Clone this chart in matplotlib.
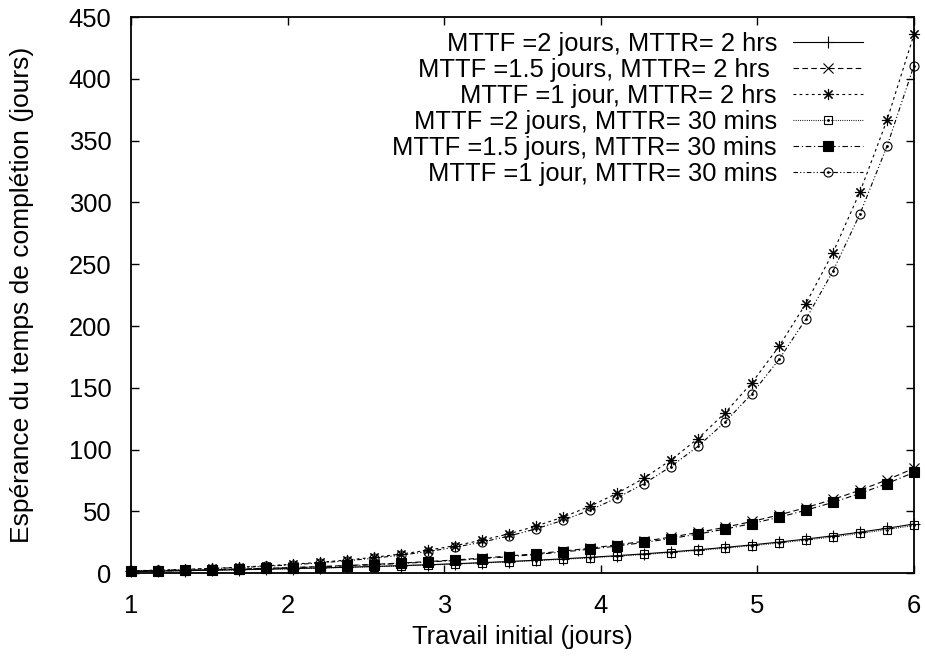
import matplotlib
matplotlib.use("Agg")
import matplotlib.pyplot as plt
from matplotlib.legend_handler import HandlerTuple

plt.rcParams['font.family'] = ['Liberation Sans', 'DejaVu Sans']

# --- données ---
travail = [1.0, 1.172, 1.345, 1.517, 1.690, 1.862, 2.034, 2.207, 2.379, 2.552,
           2.724, 2.897, 3.069, 3.241, 3.414, 3.586, 3.759, 3.931, 4.103, 4.276,
           4.448, 4.621, 4.793, 4.966, 5.138, 5.310, 5.483, 5.655, 5.828, 6.0]

mttf2_2h = [1.35, 1.66, 2.00, 2.37, 2.77, 3.20, 3.68, 4.20, 4.76, 5.38,
            6.05, 6.78, 7.58, 8.45, 9.40, 10.43, 11.56, 12.79, 14.13, 15.59,
            17.18, 18.91, 20.80, 22.86, 25.11, 27.56, 30.23, 33.13, 36.31, 39.76]
mttf15_2h = [1.50, 1.88, 2.30, 2.77, 3.30, 3.90, 4.56, 5.31, 6.15, 7.09,
             8.15, 9.34, 10.67, 12.16, 13.83, 15.71, 17.82, 20.18, 22.83, 25.80,
             29.14, 32.88, 37.08, 41.79, 47.07, 53.00, 59.65, 67.11, 75.48, 84.86]
mttf1_2h = [1.86, 2.42, 3.07, 3.86, 4.79, 5.89, 7.20, 8.76, 10.61, 12.82,
            15.43, 18.54, 22.23, 26.62, 31.83, 38.02, 45.38, 54.12, 64.51, 76.86,
            91.52, 108.95, 129.65, 154.25, 183.48, 218.20, 259.47, 308.50, 366.75, 435.96]
mttf2_30m = [1.31, 1.61, 1.94, 2.29, 2.68, 3.11, 3.57, 4.07, 4.62, 5.22,
             5.87, 6.58, 7.35, 8.20, 9.12, 10.12, 11.21, 12.41, 13.70, 15.12,
             16.66, 18.35, 20.18, 22.18, 24.36, 26.73, 29.32, 32.14, 35.22, 38.57]
mttf15_30m = [1.44, 1.80, 2.21, 2.66, 3.17, 3.74, 4.38, 5.10, 5.91, 6.81,
              7.83, 8.97, 10.25, 11.68, 13.29, 15.09, 17.11, 19.38, 21.93, 24.79,
              27.99, 31.59, 35.62, 40.14, 45.22, 50.91, 57.30, 64.46, 72.50, 81.51]
mttf1_30m = [1.75, 2.28, 2.90, 3.63, 4.51, 5.55, 6.79, 8.26, 10.00, 12.08,
             14.54, 17.47, 20.95, 25.08, 29.99, 35.83, 42.76, 51.00, 60.79, 72.42,
             86.24, 102.66, 122.17, 145.35, 172.89, 205.62, 244.50, 290.70, 345.59, 410.81]

labels = ["MTTF =2 jours, MTTR= 2 hrs",
          "MTTF =1.5 jours, MTTR= 2 hrs ",
          "MTTF =1 jour, MTTR= 2 hrs",
          "MTTF =2 jours, MTTR= 30 mins",
          "MTTF =1.5 jours, MTTR= 30 mins",
          "MTTF =1 jour, MTTR= 30 mins"]
yticks = [0, 50, 100, 150, 200, 250, 300, 350, 400, 450]
xticks = [1, 2, 3, 4, 5, 6]

series = [mttf2_2h, mttf15_2h, mttf1_2h, mttf2_30m, mttf15_30m, mttf1_30m]

# style gnuplot monochrome : (ligne, marqueur, taille, remplissage, point central)
styles = [
    ('-', '+', 9, 'black', False),
    ((0, (5, 3)), 'x', 6.5, 'black', False),
    ((0, (2.5, 3)), (8, 2, 0), 8, 'black', False),
    ((0, (0.8, 1.2)), 's', 6, 'none', True),
    ((0, (5, 2.5, 1, 2.5)), 's', 7.5, 'black', False),
    ((0, (4, 2, 1, 2, 1, 2)), 'o', 6.5, 'none', True),
]

FS = 18.4

fig = plt.figure(figsize=(9.25, 6.58), dpi=100)
ax = fig.add_axes([0.1416, 0.129, 0.8465, 0.845])

handles = []
for y, lab, (ls, mk, ms, mfc, dot) in zip(series, labels, styles):
    line, = ax.plot(travail, y, linestyle=ls, marker=mk, markersize=ms,
                    markerfacecolor=mfc, markeredgecolor='black', color='black',
                    linewidth=0.8, markeredgewidth=0.8, clip_on=False, label=lab)
    if dot:
        d, = ax.plot(travail, y, linestyle='none', marker='.', markersize=2,
                     color='black', clip_on=False)
        handles.append((line, d))
    else:
        handles.append(line)

ax.set_xlim(1, 6)
ax.set_ylim(0, 450)
ax.set_xticks(xticks)
ax.set_yticks(yticks)
ax.tick_params(direction='in', length=6, width=1, top=True, right=True,
               labelsize=FS)
ax.tick_params(axis='x', pad=15)
ax.tick_params(axis='y', pad=14)
for s in ax.spines.values():
    s.set_linewidth(1.3)

ax.set_xlabel('Travail initial (jours)', fontsize=FS, labelpad=5)
ax.set_ylabel('Espérance du temps de complétion (jours)', fontsize=19, labelpad=25)

ax.legend(handles, labels, handler_map={tuple: HandlerTuple(ndivide=1)},
          loc='upper right', bbox_to_anchor=(0.935, 0.973), frameon=False,
          markerfirst=False, fontsize=FS, handlelength=2.74, handletextpad=0.63,
          labelspacing=0.08, borderpad=0, borderaxespad=0)

fig.savefig('out.png', dpi=100)
